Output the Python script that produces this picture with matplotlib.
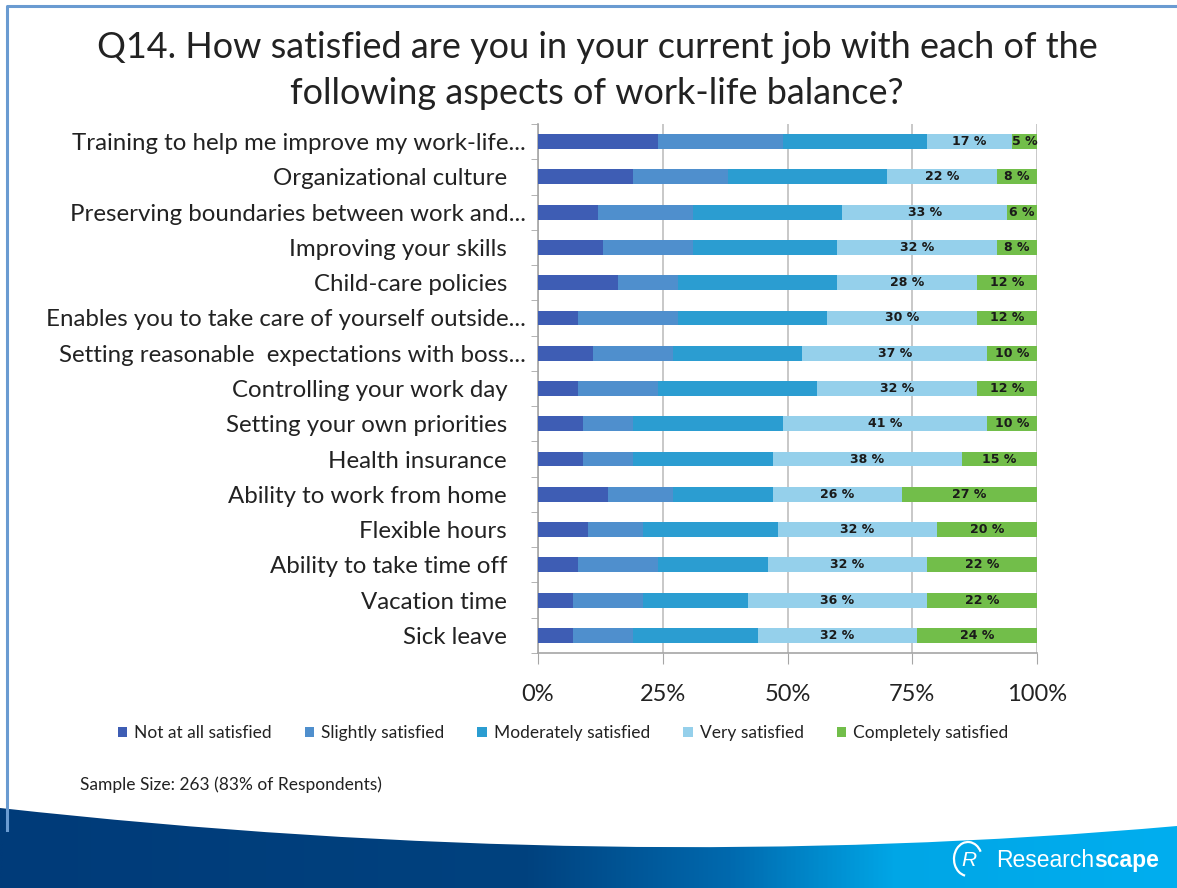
import numpy as np
import matplotlib
matplotlib.use('Agg')
import matplotlib.pyplot as plt
from matplotlib.path import Path
from matplotlib.patches import PathPatch, Arc
from matplotlib.colors import LinearSegmentedColormap

plt.rcParams['font.family'] = ['Lato', 'DejaVu Sans']

# Survey results, percent of respondents per answer
aspects = [
    'Training to help me improve my work-life...',
    'Organizational culture   ',
    'Preserving boundaries between work and...',
    'Improving your skills   ',
    'Child-care policies   ',
    'Enables you to take care of yourself outside...',
    'Setting reasonable  expectations with boss...',
    'Controlling your work day   ',
    'Setting your own priorities   ',
    'Health insurance   ',
    'Ability to work from home   ',
    'Flexible hours   ',
    'Ability to take time off   ',
    'Vacation time   ',
    'Sick leave   ',
]
not_at_all = [24, 19, 12, 13, 16, 8, 11, 8, 9, 9, 14, 10, 8, 7, 7]
slightly = [25, 19, 19, 18, 12, 20, 16, 16, 10, 10, 13, 11, 16, 14, 12]
moderately = [29, 32, 30, 29, 32, 30, 26, 32, 30, 28, 20, 27, 22, 21, 25]
very = [17, 22, 33, 32, 28, 30, 37, 32, 41, 38, 26, 32, 32, 36, 32]
completely = [5, 8, 6, 8, 12, 12, 10, 12, 10, 15, 27, 20, 22, 22, 24]

series = [
    ('Not at all satisfied', not_at_all, '#3E5DB4', False),
    ('Slightly satisfied', slightly, '#4F8FCD', False),
    ('Moderately satisfied', moderately, '#2B9DD1', False),
    ('Very satisfied', very, '#95D0EB', True),
    ('Completely satisfied', completely, '#72BE4A', True),
]
x_ticks = [0, 25, 50, 75, 100]

W, H = 1177, 888
fig = plt.figure(figsize=(W / 100, H / 100), dpi=100)

# background layer in pixel coordinates
bg = fig.add_axes([0, 0, 1, 1], zorder=0)
bg.set_xlim(0, W)
bg.set_ylim(H, 0)
bg.axis('off')

# slide frame
bg.plot([6.5, 6.5, W], [830, 6.5, 6.5], color='#6A9BD1', lw=2.2)

# curved gradient band at the bottom
band = Path([(0, 808), (612, 876), (W, 826), (W, H), (0, H), (0, 808)],
            [Path.MOVETO, Path.CURVE3, Path.CURVE3, Path.LINETO, Path.LINETO, Path.CLOSEPOLY])
patch = PathPatch(band, facecolor='none', edgecolor='none')
bg.add_patch(patch)
cmap = LinearSegmentedColormap.from_list(
    'band', [(0, '#003B79'), (0.45, '#00427F'), (0.62, '#0069AE'), (0.76, '#00A6E6'), (1, '#00AEEF')])
grad = np.linspace(0, 1, 512)[None, :]
im = bg.imshow(grad, cmap=cmap, aspect='auto', extent=[0, W, H, 800], zorder=1)
im.set_clip_path(patch)

# logo
bg.add_patch(Arc((968, 859), 28, 34, theta1=100, theta2=330, color='white', lw=1.6, zorder=3))
bg.text(969, 860, 'R', color='white', fontsize=15, ha='center', va='center',
        family='Liberation Sans', style='italic', zorder=3)
t1 = bg.text(996, 860, 'Research', color='white', fontsize=16.5, va='center',
             family='Liberation Sans', zorder=3)
fig.canvas.draw()
bb = t1.get_window_extent()
bg.text(996 + bb.width, 860, 'scape', color='white', fontsize=16.5, va='center',
        family='Liberation Sans', weight='bold', zorder=3)

# title
fig.text(597 / W, 1 - 47 / H, 'Q14. How satisfied are you in your current job with each of the',
         ha='center', va='center', fontsize=25.9, color='#222222')
fig.text(597 / W, 1 - 93 / H, 'following aspects of work-life balance?',
         ha='center', va='center', fontsize=25.9, color='#222222')

# stacked bars
ax = fig.add_axes([538 / W, 1 - 653 / H, (1037 - 538) / W, (653 - 124) / H], zorder=2)
ypos = np.arange(len(aspects))
left = np.zeros(len(aspects))
for name, vals, color, labelled in series:
    vals = np.array(vals, dtype=float)
    bars = ax.barh(ypos, vals, left=left, height=0.42, color=color, label=name, zorder=3)
    if labelled:
        for b, v in zip(bars, vals):
            ax.text(b.get_x() + b.get_width() / 2, b.get_y() + b.get_height() / 2,
                    f'{v:.0f} %', ha='center', va='center', fontsize=9, weight='bold',
                    family=['Liberation Sans Narrow', 'DejaVu Sans'], color='#1a1a1a', zorder=4)
    left += vals

ax.set_xlim(0, 100)
ax.set_ylim(len(aspects) - 0.5, -0.5)
ax.set_xticks(x_ticks)
ax.set_xticklabels([f'{t}%' for t in x_ticks], fontsize=17, color='#222222')
ax.set_yticks(ypos)
ax.set_yticklabels(aspects, fontsize=17.3, color='#222222')
ax.set_yticks(np.arange(-0.5, len(aspects), 1), minor=True)
ax.tick_params(axis='y', which='major', length=0, pad=9)
ax.tick_params(axis='y', which='minor', length=5, color='#A6A6A6')
ax.tick_params(axis='x', length=8, color='#A6A6A6', pad=14)
ax.grid(axis='x', color='#C8C8C8', lw=1.4, zorder=0)
for s in ['top', 'right']:
    ax.spines[s].set_visible(False)
for s in ['left', 'bottom']:
    ax.spines[s].set_color('#A6A6A6')
    ax.spines[s].set_linewidth(1.2)

fig.legend(loc='center', bbox_to_anchor=(563 / W, 1 - 733 / H), ncol=5, frameon=False,
           fontsize=12.5, handlelength=0.55, handleheight=0.55, handletextpad=0.4,
           columnspacing=1.9, labelcolor='#222222')

fig.text(80 / W, 1 - 785 / H, 'Sample Size: 263 (83% of Respondents)', fontsize=12.5,
         va='center', color='#222222')

fig.savefig('out.png', dpi=100)
